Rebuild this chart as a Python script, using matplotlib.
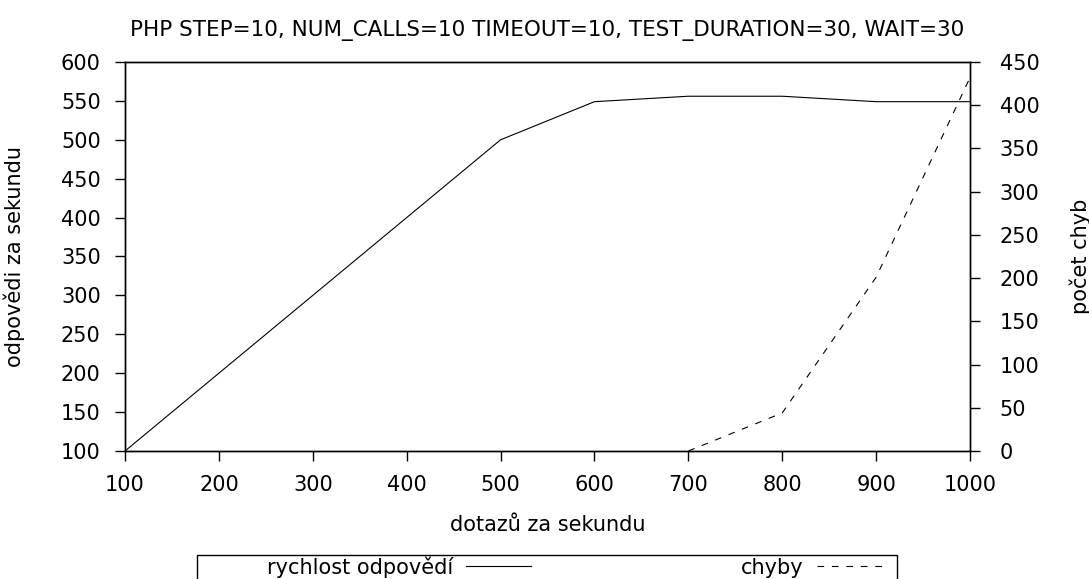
import matplotlib
matplotlib.use("Agg")
import matplotlib.pyplot as plt
from matplotlib.patches import Rectangle

# Data
requests = [100, 200, 300, 400, 500, 600, 700, 800, 900, 1000]
responses = [100, 200, 300, 400, 500, 549, 556, 556, 549, 549]
err_x = [700, 800, 900, 1000]
errors = [0, 44, 201, 432]

title = "PHP STEP=10, NUM_CALLS=10 TIMEOUT=10, TEST_DURATION=30, WAIT=30"
xlabel = "dotazů za sekundu"
ylabel = "odpovědi za sekundu"
y2label = "počet chyb"
lab1 = "rychlost odpovědí"
lab2 = "chyby"

W, H = 1089, 579
fig = plt.figure(figsize=(W / 100, H / 100), dpi=100)
plt.rcParams['font.family'] = ['DejaVu Sans']
FS = 15

L, R, T, B = 125, 970, 62, 451
ax = fig.add_axes([L / W, 1 - B / H, (R - L) / W, (B - T) / H])
ax2 = ax.twinx()

l1, = ax.plot(requests, responses, color='black', lw=0.8, label=lab1)
l2, = ax2.plot(err_x, errors, color='black', lw=0.8, dashes=(6, 7), label=lab2)

ax.set_xlim(100, 1000)
ax.set_ylim(100, 600)
ax2.set_ylim(0, 450)
ax.set_xticks(range(100, 1001, 100))
ax.set_yticks(range(100, 601, 50))
ax2.set_yticks(range(0, 451, 50))

for a in (ax, ax2):
    for s in a.spines.values():
        s.set_linewidth(1.0)
        s.set_color('black')

ax.tick_params(axis='x', direction='out', length=7.5, width=1, pad=10, labelsize=FS, top=False)
ax.tick_params(axis='y', direction='out', length=7.5, width=1, pad=10, labelsize=FS, right=False)
ax2.tick_params(axis='y', direction='out', length=7.5, width=1, pad=14, labelsize=FS, left=False)

ax.set_title(title, fontsize=FS + 0.5, pad=19)

ax.set_xlabel(xlabel, fontsize=FS)
ax.xaxis.label.set_va('center')
ax.xaxis.set_label_coords(0.5, (B - 525) / (B - T))
ax.set_ylabel(ylabel, fontsize=FS)
ax.yaxis.label.set_va('center')
ax.yaxis.set_label_coords((14 - L) / (R - L), 0.5)
ax2.set_ylabel(y2label, fontsize=FS)
ax2.yaxis.label.set_va('center')
ax2.yaxis.set_label_coords((1080 - L) / (R - L), 0.5)

# legend frame (extends below figure edge)
fig.patches.append(Rectangle((197 / W, -0.05), (897 - 197) / W, 1 - 555 / H + 0.05,
                             transform=fig.transFigure, fill=False, edgecolor='black', lw=1.0))
leg = fig.legend(handles=[l1, l2], loc='upper left', bbox_to_anchor=(267 / W, 1 - 556 / H),
                 ncol=2, frameon=False, markerfirst=False, fontsize=FS,
                 handlelength=3.1, handletextpad=0.63, columnspacing=10.1, borderpad=0,
                 borderaxespad=0)

fig.savefig("out.png", dpi=100)
